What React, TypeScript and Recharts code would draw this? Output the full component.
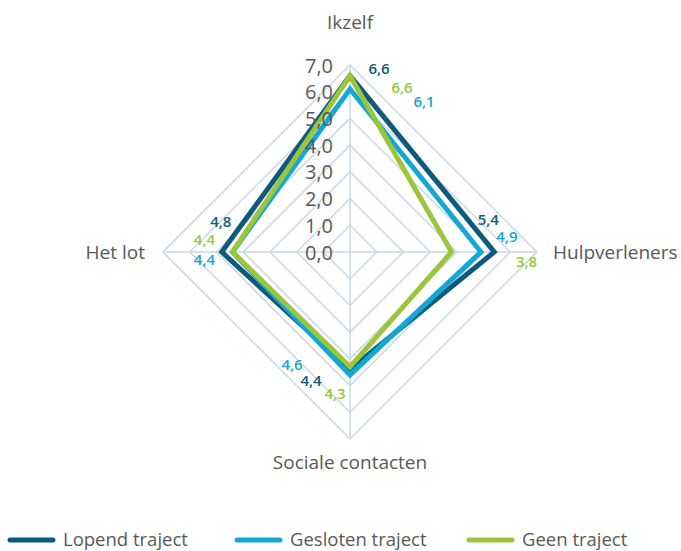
import { RadarChart, Radar, PolarGrid, PolarAngleAxis, PolarRadiusAxis, Legend } from 'recharts'

// categories (clockwise from the top)
const axes = ['Ikzelf', 'Hulpverleners', 'Sociale contacten', 'Het lot']

// scores per group
const lopend = [6.6, 5.4, 4.4, 4.8]
const gesloten = [6.1, 4.9, 4.6, 4.4]
const geen = [6.6, 3.8, 4.3, 4.4]

const radiusTicks = [0, 1, 2, 3, 4, 5, 6, 7]

const seriesNames = ['Lopend traject', 'Gesloten traject', 'Geen traject']
const seriesKeys = ['lopend', 'gesloten', 'geen']

const COLORS = ['#0d5a7d', '#12a7d5', '#9cc53c']
const GRID = '#c9d8e2'
const TEXT = '#595959'
const FONT = '"Open Sans", sans-serif'

// where each value label sits relative to its vertex [dx, dy]
const LABEL_OFFSETS: number[][][] = [
  [[29, -8], [-6, -33], [-39, 10], [-1, -31]],
  [[74, 12], [26, -16], [-58, -11], [-28, 7]],
  [[52, 11], [75, 9], [-15, 26], [-28, -13]],
]

// legend x positions (line start)
const LEGEND_X = [10, 237, 469]

const data = axes.map((axis, i) => ({
  axis,
  lopend: lopend[i],
  gesloten: gesloten[i],
  geen: geen[i],
}))

const fmt = (v: number) => v.toFixed(1).replace('.', ',')

function RadiusTick({ x, y, payload }: any) {
  return (
    <text x={x - 17} y={y} textAnchor="end" dominantBaseline="central" fill={TEXT} fontSize={20} fontFamily={FONT}>
      {fmt(payload.value)}
    </text>
  )
}

function AngleTick({ x, y, payload, index }: any) {
  let dx = 0
  let dy = 0
  let anchor = 'middle'
  if (index === 0) dy = -35
  if (index === 1) { dx = 8; anchor = 'start' }
  if (index === 2) dy = 15
  if (index === 3) { dx = -10; anchor = 'end' }
  return (
    <text x={x + dx} y={y + dy} textAnchor={anchor} dominantBaseline="central" fill={TEXT} fontSize={19} fontFamily={FONT}>
      {payload.value}
    </text>
  )
}

function makeLabel(s: number) {
  return (props: any) => {
    const { x, y, value, index } = props
    const off = LABEL_OFFSETS[s][index] || [0, 0]
    return (
      <text
        key={`l-${s}-${index}`}
        x={x + off[0]}
        y={y + off[1]}
        textAnchor="middle"
        dominantBaseline="central"
        fill={COLORS[s]}
        fontSize={15}
        fontWeight={600}
        fontFamily={FONT}
      >
        {fmt(Number(value))}
      </text>
    )
  }
}

function LegendContent() {
  return (
    <svg width={681} height={24} style={{ display: 'block' }}>
      {seriesNames.map((name, i) => (
        <g key={name}>
          <line x1={LEGEND_X[i]} x2={LEGEND_X[i] + 43} y1={14} y2={14} stroke={COLORS[i]} strokeWidth={5} strokeLinecap="round" />
          <text x={LEGEND_X[i] + 53} y={12} dominantBaseline="central" fill={TEXT} fontSize={18.5} fontFamily={FONT}>
            {name}
          </text>
        </g>
      ))}
    </svg>
  )
}

export default function App() {
  return (
    <div style={{ position: 'absolute', left: 0, top: 0, background: '#fff' }}>
      <RadarChart width={681} height={551} data={data} cx={350} cy={252} outerRadius={187} margin={{ top: 0, right: 0, bottom: 0, left: 0 }}>
        <PolarGrid gridType="polygon" stroke={GRID} strokeWidth={1.5} />
        <PolarAngleAxis dataKey="axis" tick={<AngleTick />} tickLine={false} axisLine={false} />
        <PolarRadiusAxis
          angle={90}
          domain={[0, 7]}
          ticks={radiusTicks as any}
          tickCount={8}
          axisLine={false}
          tick={<RadiusTick />}
        />
        {seriesKeys.map((key, s) => (
          <Radar
            key={key}
            name={seriesNames[s]}
            dataKey={key}
            stroke={COLORS[s]}
            strokeWidth={5}
            fill="none"
            fillOpacity={0}
            dot={false}
            label={makeLabel(s)}
            isAnimationActive={false}
          />
        ))}
        <Legend content={<LegendContent />} wrapperStyle={{ left: 0, top: 526, width: 681, height: 24 }} />
      </RadarChart>
    </div>
  )
}
